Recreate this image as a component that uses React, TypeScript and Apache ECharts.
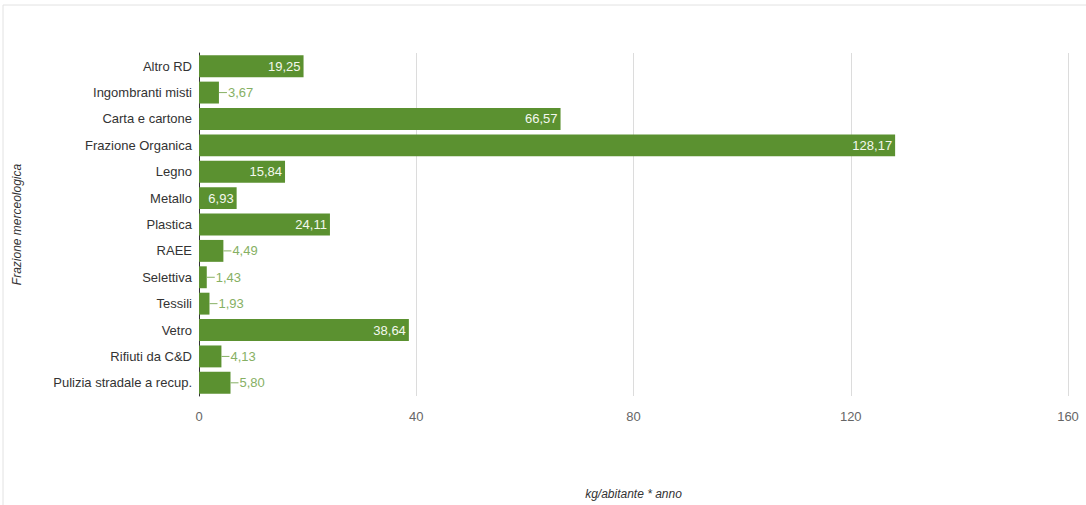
import React, { useEffect, useRef } from "react";
import * as echarts from "echarts";

const categories = [
  "Altro RD",
  "Ingombranti misti",
  "Carta e cartone",
  "Frazione Organica",
  "Legno",
  "Metallo",
  "Plastica",
  "RAEE",
  "Selettiva",
  "Tessili",
  "Vetro",
  "Rifiuti da C&D",
  "Pulizia stradale a recup.",
];
const values = [19.25, 3.67, 66.57, 128.17, 15.84, 6.93, 24.11, 4.49, 1.43, 1.93, 38.64, 4.13, 5.8];
const xTicks = [0, 40, 80, 120, 160];

const BAR = "#5b9130";
const OUT = "#86b063";

export default function App() {
  const ref = useRef<HTMLDivElement>(null);
  useEffect(() => {
    const chart = echarts.init(ref.current!, null, { renderer: "svg" });
    const fmt = (v: number) => v.toFixed(2).replace(".", ",");
    const data = values.map((v) => {
      const inside = v >= 6.5;
      return {
        value: v,
        label: inside
          ? {
              show: true,
              position: "insideRight",
              distance: 3,
              color: "#f4f8ee",
              fontSize: 13,
              fontFamily: "Liberation Sans, Arial, sans-serif",
              formatter: () => fmt(v),
            }
          : {
              show: true,
              position: "right",
              distance: 0,
              color: OUT,
              fontSize: 13,
              fontFamily: "Liberation Sans, Arial, sans-serif",
              formatter: () => "{l|}{t|" + fmt(v) + "}",
              rich: {
                l: { width: 8, height: 1, backgroundColor: OUT },
                t: { color: OUT, fontSize: 13, padding: [0, 0, 0, 1] },
              },
            },
      };
    });
    chart.setOption({
      animation: false,
      graphic: [
        {
          type: "rect",
          shape: { x: 3, y: 5, width: 1100, height: 520 },
          style: { fill: "none", stroke: "#e2e2e2", lineWidth: 1 },
          silent: true,
        },
      ],
      grid: { left: 199, right: 18, top: 53, bottom: 107, containLabel: false },
      xAxis: {
        type: "value",
        min: xTicks[0],
        max: xTicks[xTicks.length - 1],
        interval: 40,
        name: "kg/abitante * anno",
        nameLocation: "middle",
        nameGap: 92,
        nameTextStyle: {
          fontStyle: "italic",
          fontSize: 12,
          color: "#333",
          fontFamily: "Liberation Sans, Arial, sans-serif",
        },
        axisLine: { show: false },
        axisTick: { show: false },
        axisLabel: {
          color: "#666",
          fontSize: 13,
          margin: 14,
          fontFamily: "Liberation Sans, Arial, sans-serif",
        },
        splitLine: { show: true, lineStyle: { color: "#dcdcdc", width: 1 } },
      },
      yAxis: {
        type: "category",
        data: categories,
        inverse: true,
        name: "Frazione merceologica",
        nameLocation: "middle",
        nameGap: 176,
        nameRotate: 90,
        nameTextStyle: {
          fontStyle: "italic",
          fontSize: 12,
          color: "#333",
          fontFamily: "Liberation Sans, Arial, sans-serif",
        },
        axisLine: { show: true, lineStyle: { color: "#333", width: 1 } },
        axisTick: { show: false },
        axisLabel: {
          color: "#333",
          fontSize: 13,
          margin: 7,
          fontFamily: "Liberation Sans, Arial, sans-serif",
        },
        splitLine: { show: false },
      },
      series: [
        {
          type: "bar",
          data,
          barCategoryGap: "17%",
          itemStyle: { color: BAR },
          z: 1,
        },
      ],
    });
    return () => chart.dispose();
  }, []);
  return (
    <div
      ref={ref}
      style={{ position: "fixed", left: 0, top: 0, width: 1086, height: 505, background: "#fff" }}
    />
  );
}
